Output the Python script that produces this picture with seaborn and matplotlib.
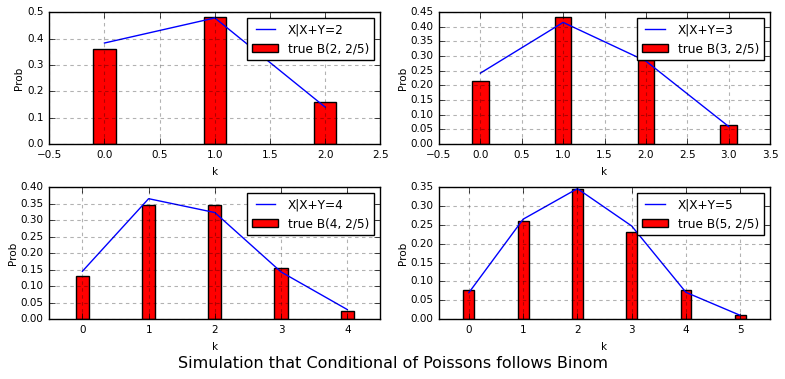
import matplotlib
matplotlib.use('Agg')
import matplotlib.pyplot as plt
import seaborn as sns
import pandas as pd

# true binomial pmf B(n, 2/5) and simulated conditional X | X+Y=n
true_2 = [0.36, 0.48, 0.16]
sim_2 = [0.383, 0.478, 0.140]

true_3 = [0.216, 0.432, 0.288, 0.064]
sim_3 = [0.242, 0.415, 0.283, 0.060]

true_4 = [0.1296, 0.3456, 0.3456, 0.1536, 0.0256]
sim_4 = [0.145, 0.365, 0.323, 0.143, 0.029]

true_5 = [0.07776, 0.2592, 0.3456, 0.2304, 0.0768, 0.01024]
sim_5 = [0.070, 0.265, 0.346, 0.247, 0.071, 0.010]

totals = [2, 3, 4, 5]
true_vals = [true_2, true_3, true_4, true_5]
sim_vals = [sim_2, sim_3, sim_4, sim_5]

plt.style.use('classic')
plt.rcParams['font.size'] = 7.5
plt.rcParams['legend.fontsize'] = 8.7
plt.rcParams['axes.unicode_minus'] = True

fig, axes = plt.subplots(2, 2, figsize=(7.85, 3.79), dpi=100)
fig.patch.set_facecolor('white')
fig.subplots_adjust(left=0.0628, right=0.981, top=0.968, bottom=0.158,
                    wspace=0.177, hspace=0.326)

for ax, n, tv, sv in zip(axes.flat, totals, true_vals, sim_vals):
    df = pd.DataFrame({'k': list(range(n + 1)), 'true': tv, 'sim': sv})
    sns.lineplot(data=df, x='k', y='sim', color='blue', linewidth=1.0,
                 label='X|X+Y=%d' % n, ax=ax)
    sns.barplot(data=df, x='k', y='true', native_scale=True, width=0.2,
                color='red', saturation=1, edgecolor='black', linewidth=1.0,
                errorbar=None, label='true B(%d, 2/5)' % n, ax=ax)
    ax.set_xlabel('k')
    ax.set_ylabel('Prob', labelpad=2)
    ax.grid(True, color='black', alpha=0.3, linestyle=(0, (2.5, 2.5)),
            linewidth=0.8)
    if n <= 3:
        ax.set_xlim(-0.5, n + 0.5)
        ax.set_xticks([x * 0.5 for x in range(-1, 2 * n + 2)])
    else:
        ax.set_xlim(-0.5 - 0.05 * (n - 4), n + 0.5 + 0.05 * (n - 4))
        ax.set_xticks(range(n + 1))
    ax.legend(loc='upper right', handlelength=2.2)

axes[0, 0].set_ylim(0, 0.5)
axes[0, 1].set_ylim(0, 0.45)
axes[1, 0].set_ylim(0, 0.4)
axes[1, 1].set_ylim(0, 0.35)

fig.text(0.5, 0.04, 'Simulation that Conditional of Poissons follows Binom',
         ha='center', va='center', fontsize=11.5)

plt.savefig('out.png', dpi=100, facecolor='white')
plt.close()
